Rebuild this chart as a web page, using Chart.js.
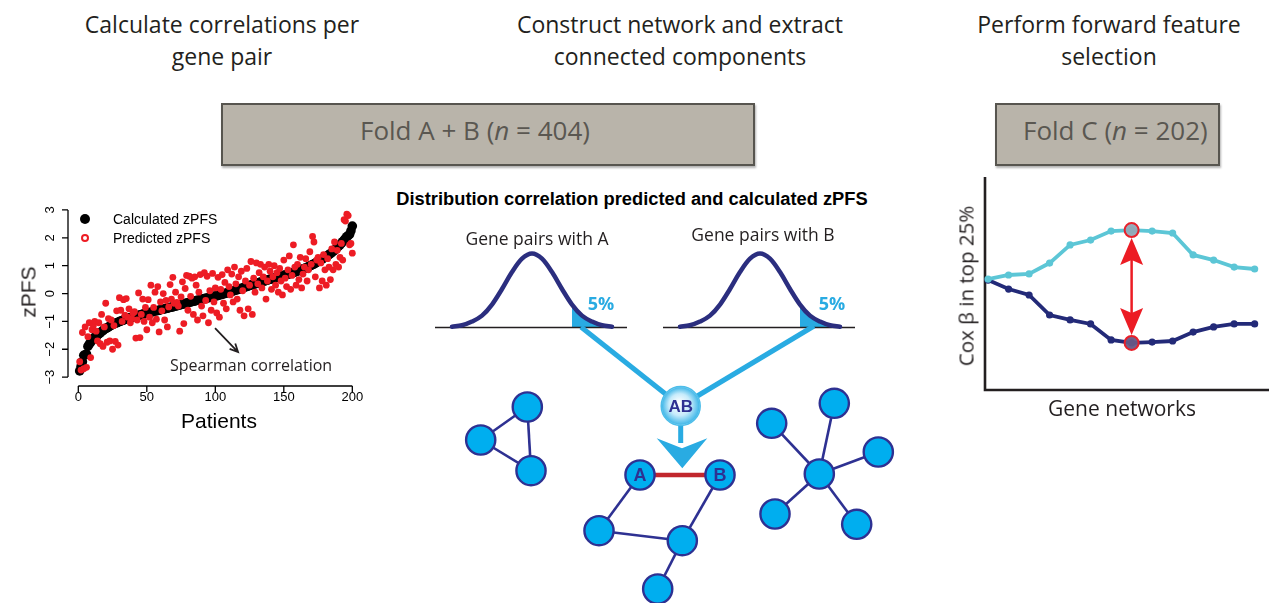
<!DOCTYPE html>
<html>
<head>
<meta charset="utf-8">
<title>Gene network selection workflow</title>
<script src="https://cdn.jsdelivr.net/npm/chart.js@4.4.1/dist/chart.umd.min.js"></script>
<style>
  html, body { margin: 0; padding: 0; background: #fff; }
  #fig { position: relative; width: 1269px; height: 603px; overflow: hidden; }
  #fig canvas { position: absolute; }
  .txt { position: absolute; white-space: nowrap; color: #231f20; }
  .fold { position: absolute; box-sizing: border-box; background: #b9b4aa;
          border: 2px solid #57554f; box-shadow: 1px 2px 2px rgba(0,0,0,0.3); }
  .dot { position: absolute; border-radius: 50%; box-sizing: border-box; }
</style>
</head>
<body>
<div id="fig">
  <div class="fold" style="left:221px;top:103px;width:534px;height:63px"></div>
  <div class="fold" style="left:995px;top:103px;width:225px;height:63px"></div>
  <div class="dot" style="left:80px;top:214px;width:10px;height:10px;background:#000"></div>
  <div class="dot" style="left:81px;top:234px;width:8px;height:8px;border:2px solid #ed1c24"></div>
  <canvas id="scatter" width="380" height="250" style="left:0;top:190px;width:380px;height:250px"></canvas>
  <canvas id="bellA" width="205" height="100" style="left:430px;top:240px;width:205px;height:100px"></canvas>
  <canvas id="bellB" width="205" height="100" style="left:658px;top:240px;width:205px;height:100px"></canvas>
  <canvas id="network" width="470" height="283" style="left:430px;top:320px;width:470px;height:283px"></canvas>
  <canvas id="cox" width="329" height="260" style="left:940px;top:170px;width:329px;height:260px"></canvas>
</div>
<script>
// ---------- Panel 1: calculated vs predicted zPFS per patient ----------
const zTicks = [-3, -2, -1, 0, 1, 2, 3];
const patientTicks = [0, 50, 100, 150, 200];

const calculatedZ = [
  -2.78,-2.62,-2.45,-2.22,-2.2,-2.18,-1.9,-1.82,-1.75,-1.68,
  -1.62,-1.57,-1.53,-1.49,-1.45,-1.41,-1.37,-1.33,-1.29,-1.26,
  -1.23,-1.2,-1.17,-1.14,-1.11,-1.09,-1.07,-1.05,-1.03,-1.01,
  -0.99,-0.97,-0.95,-0.93,-0.92,-0.9,-0.88,-0.87,-0.85,-0.84,
  -0.82,-0.81,-0.8,-0.78,-0.77,-0.76,-0.74,-0.73,-0.72,-0.7,
  -0.69,-0.68,-0.67,-0.66,-0.64,-0.63,-0.62,-0.61,-0.6,-0.58,
  -0.57,-0.56,-0.55,-0.54,-0.53,-0.51,-0.5,-0.49,-0.48,-0.46,
  -0.45,-0.44,-0.42,-0.41,-0.4,-0.38,-0.37,-0.36,-0.34,-0.33,
  -0.32,-0.3,-0.29,-0.28,-0.27,-0.25,-0.24,-0.23,-0.22,-0.2,
  -0.19,-0.18,-0.17,-0.16,-0.15,-0.14,-0.13,-0.12,-0.1,-0.09,
  -0.08,-0.07,-0.05,-0.04,-0.03,-0.01,0.0,0.02,0.03,0.05,
  0.06,0.08,0.09,0.11,0.12,0.14,0.15,0.17,0.19,0.2,
  0.22,0.24,0.25,0.27,0.29,0.3,0.32,0.33,0.35,0.36,
  0.38,0.39,0.41,0.42,0.44,0.45,0.47,0.48,0.5,0.51,
  0.52,0.54,0.55,0.57,0.58,0.59,0.61,0.62,0.63,0.65,
  0.66,0.68,0.69,0.71,0.72,0.74,0.75,0.77,0.79,0.81,
  0.82,0.84,0.86,0.88,0.9,0.92,0.94,0.96,0.99,1.01,
  1.04,1.06,1.09,1.12,1.15,1.18,1.21,1.24,1.27,1.3,
  1.33,1.36,1.4,1.43,1.47,1.51,1.55,1.6,1.65,1.7,
  1.75,1.8,1.86,1.92,1.98,2.04,2.08,2.12,2.25,2.42
];

const predictedZ = [
  -2.45,-2.75,-1.4,-2.7,-1.2,-2.65,-1.55,-1.05,-2.3,-1.3,
  -1.15,-1.0,-1.35,-1.7,-1.05,-1.8,-0.75,-1.9,-1.2,-0.35,
  -1.75,-0.9,-1.7,-0.95,-2.0,-1.15,-1.72,-0.62,-1.85,-0.15,
  -0.6,-1.0,-0.22,-0.78,-0.18,-0.85,-0.55,-1.05,-0.9,-0.7,
  -0.65,-1.6,-0.95,0.02,-1.58,-0.75,-0.2,-1.0,-0.5,-1.3,
  -0.22,-0.85,0.3,-1.05,-0.5,0.05,-0.92,0.25,-1.38,-0.3,
  -0.62,0.0,-0.95,-0.25,-1.2,-0.48,0.32,-0.2,0.58,-0.35,
  0.05,-0.32,-0.45,-1.35,-0.12,0.42,-1.08,0.18,0.65,-0.6,
  0.62,-0.1,0.55,-0.75,0.6,0.3,-0.95,0.05,0.68,-0.45,
  -0.8,0.75,-0.25,0.62,-1.05,0.1,-0.6,0.72,-0.3,0.2,
  -0.7,0.58,-0.85,0.15,0.68,-0.35,0.4,-0.55,0.85,0.25,
  -0.05,0.7,-0.3,0.95,0.35,-0.2,0.6,-0.6,0.8,0.1,
  -0.8,0.45,0.9,-0.55,0.3,1.15,-0.75,0.55,0.05,1.1,
  0.35,0.75,1.05,0.2,0.6,0.95,-0.2,0.45,1.05,0.8,
  0.15,0.6,1.0,0.3,0.75,0.05,0.9,0.45,-0.05,1.2,
  0.55,0.25,0.85,1.35,0.15,0.65,1.75,0.95,0.3,1.05,
  0.5,1.3,0.2,0.7,0.95,1.25,0.45,0.85,1.5,1.05,
  2.05,1.85,0.6,1.2,1.3,0.2,1.1,0.45,1.4,0.85,
  0.3,1.25,0.95,0.5,1.6,0.85,1.85,1.05,1.55,0.95,
  1.3,1.8,1.2,2.65,2.6,2.85,2.8,1.75,1.8,1.45
];

const patients = calculatedZ.map((_, i) => i + 1);
// arrow pointing at the Spearman correlation note, in data units
const spearmanArrow = [[99.8, -1.24], [116.6, -2.1]];

// ---------- Panel 2: correlation distributions and the gene network ----------
const scoreGrid = [-80, -70, -60, -50, -40, -30, -20, -10, 0, 10, 20, 30, 40, 50, 60, 70, 80];
const density = [0.01, 0.03, 0.08, 0.16, 0.31, 0.52, 0.75, 0.93, 1, 0.93, 0.75, 0.52, 0.31, 0.16, 0.08, 0.03, 0.01];
const tailStart = 40;           // top 5% of the correlation distribution
const baselineRange = [-97, 95];

const nodeX = [9.73, 5.07, 10.1, 21.0, 29.0, 16.9, 25.23, 22.77, 38.93, 34.17, 40.43, 44.83, 42.67, 34.5];
const nodeY = [8.7, 12.0, 15.07, 15.5, 15.5, 21.07, 22.07, 26.9, 15.4, 10.33, 8.33, 13.2, 20.43, 19.4];
const nodeLabels = ['', '', '', 'A', 'B', '', '', '', '', '', '', '', '', ''];
const edges = [[0, 1], [1, 2], [0, 2], [3, 5], [5, 6], [4, 6], [6, 7], [8, 9], [8, 10], [8, 11], [8, 12], [8, 13]];
const pairEdge = [3, 4];
const pairNode = [25.07, 8.6];
const tailAnchors = [[15.1, 0.7], [38.4, 0.6]];
const shaftEnd = [25.07, 12.3];
const arrowHead = [[22.67, 11.83], [25.2, 12.83], [27.73, 11.83], [25.23, 14.83]];

// ---------- Panel 3: forward feature selection ----------
const networkSteps = [0, 1, 2, 3, 4, 5, 6, 7, 8, 9, 10, 11, 12, 13];
const coxHigh = [52.1, 54.0, 54.5, 59.6, 68.1, 70.4, 74.6, 75.1, 74.6, 73.7, 63.4, 61.0, 57.7, 56.8];
const coxLow  = [51.6, 47.4, 44.6, 35.2, 32.9, 31.0, 23.5, 22.1, 22.5, 23.0, 27.2, 29.6, 31.0, 31.0];
const bestStep = 7;

// ---------- text ----------
const fig = document.getElementById('fig');
const FONTS = {
  os: { family: '"Open Sans", sans-serif', a: 1.069, d: 0.293 },
  ls: { family: '"Liberation Sans", Arial, sans-serif', a: 0.905, d: 0.212 }
};
function addText(html, x, base, size, font, o = {}) {
  const f = FONTS[font];
  const lh = Math.round(size * 1.4);
  const el = document.createElement('div');
  el.className = 'txt';
  el.innerHTML = html;
  const top = base - ((lh - (f.a + f.d) * size) / 2 + f.a * size);
  Object.assign(el.style, {
    fontFamily: f.family, fontSize: size + 'px', lineHeight: lh + 'px',
    top: top + 'px', left: x + 'px', fontWeight: o.weight || 400, color: o.color || '#231f20',
    transform: 'translateX(' + (o.align === 'center' ? '-50%' : o.align === 'right' ? '-100%' : '0') + ')'
  });
  fig.appendChild(el);
}
function addVertical(html, cx, cy, size, font) {
  const f = FONTS[font];
  const el = document.createElement('div');
  el.className = 'txt';
  el.innerHTML = html;
  Object.assign(el.style, {
    fontFamily: f.family, fontSize: size + 'px', lineHeight: Math.round(size * 1.4) + 'px',
    left: cx + 'px', top: cy + 'px', transform: 'translate(-50%,-50%) rotate(-90deg)'
  });
  fig.appendChild(el);
}

addText('Calculate correlations per', 222, 33, 23, 'os', { align: 'center' });
addText('gene pair', 222, 65, 23, 'os', { align: 'center' });
addText('Construct network and extract', 680, 33, 23, 'os', { align: 'center' });
addText('connected components', 680, 65, 23, 'os', { align: 'center' });
addText('Perform forward feature', 1109, 33, 23, 'os', { align: 'center' });
addText('selection', 1109, 65, 23, 'os', { align: 'center' });
addText('Fold A + B (<i>n</i> = 404)', 360, 140, 26, 'os', { color: '#5a5751' });
addText('Fold C (<i>n</i> = 202)', 1023, 140, 26, 'os', { color: '#5a5751' });

addText('Calculated zPFS', 113, 224, 14, 'ls', { color: '#000' });
addText('Predicted zPFS', 113, 243, 14, 'ls', { color: '#000' });
addText('Patients', 219, 428, 21, 'ls', { align: 'center', color: '#000' });
addVertical('zPFS', 28, 292, 21, 'ls');
addText('Spearman correlation', 170, 371, 16, 'os');

addText('Distribution correlation predicted and calculated zPFS', 632, 205.5, 18.3, 'ls', { align: 'center', weight: 700, color: '#000' });
addText('Gene pairs with A', 537, 245, 17.5, 'os', { align: 'center' });
addText('Gene pairs with B', 763, 241.5, 17.5, 'os', { align: 'center' });
addText('5%', 601, 310, 18, 'os', { align: 'center', weight: 700, color: '#29abe2' });
addText('5%', 832, 310.5, 18, 'os', { align: 'center', weight: 700, color: '#29abe2' });

addVertical('Cox β in top 25%', 966, 286, 20.5, 'os');
addText('Gene networks', 1122, 417, 21, 'os', { align: 'center' });

// ---------- charts ----------
const base = {
  animation: false, responsive: false, devicePixelRatio: 1, events: [],
  plugins: { legend: { display: false }, tooltip: { enabled: false } }
};
const area = (padding) => ({ autoPadding: false, padding });

// R-style axes: lines span only the first to last tick
const rAxes = {
  id: 'rAxes',
  afterDraw(chart) {
    const { ctx, chartArea: a, scales: { x, y } } = chart;
    ctx.save();
    ctx.strokeStyle = '#000'; ctx.fillStyle = '#000'; ctx.lineWidth = 1.3;
    ctx.font = '13px "Liberation Sans", Arial, sans-serif';
    const ax = a.left + 1;
    ctx.beginPath();
    ctx.moveTo(ax, y.getPixelForValue(zTicks[0]));
    ctx.lineTo(ax, y.getPixelForValue(zTicks[zTicks.length - 1]));
    zTicks.forEach(v => { const py = y.getPixelForValue(v); ctx.moveTo(ax - 6, py); ctx.lineTo(ax, py); });
    const ay = a.bottom;
    ctx.moveTo(x.getPixelForValue(patientTicks[0]), ay);
    ctx.lineTo(x.getPixelForValue(patientTicks[patientTicks.length - 1]), ay);
    patientTicks.forEach(v => { const px = x.getPixelForValue(v); ctx.moveTo(px, ay); ctx.lineTo(px, ay + 6); });
    ctx.stroke();
    ctx.textAlign = 'center'; ctx.textBaseline = 'middle';
    zTicks.forEach(v => {
      ctx.save();
      ctx.translate(ax - 18, y.getPixelForValue(v));
      ctx.rotate(-Math.PI / 2);
      ctx.fillText(v < 0 ? '\u2212' + Math.abs(v) : String(v), 0, 0);
      ctx.restore();
    });
    patientTicks.forEach(v => ctx.fillText(String(v), x.getPixelForValue(v), ay + 11));
    // annotation arrow
    const x1 = x.getPixelForValue(spearmanArrow[0][0]), y1 = y.getPixelForValue(spearmanArrow[0][1]);
    const x2 = x.getPixelForValue(spearmanArrow[1][0]), y2 = y.getPixelForValue(spearmanArrow[1][1]);
    const ang = Math.atan2(y2 - y1, x2 - x1);
    ctx.lineWidth = 1.8; ctx.strokeStyle = '#231f20';
    ctx.beginPath();
    ctx.moveTo(x1, y1); ctx.lineTo(x2, y2);
    ctx.moveTo(x2 - 9 * Math.cos(ang - 0.45), y2 - 9 * Math.sin(ang - 0.45));
    ctx.lineTo(x2, y2);
    ctx.lineTo(x2 - 9 * Math.cos(ang + 0.45), y2 - 9 * Math.sin(ang + 0.45));
    ctx.stroke();
    ctx.restore();
  }
};

new Chart(document.getElementById('scatter'), {
  type: 'scatter',
  data: {
    datasets: [
      { label: 'Predicted zPFS', data: patients.map((p, i) => ({ x: p, y: predictedZ[i] })),
        pointRadius: 3.4, pointBorderWidth: 0, pointBackgroundColor: '#ed1c24', order: 1, clip: false },
      { label: 'Calculated zPFS', data: patients.map((p, i) => ({ x: p, y: calculatedZ[i] })),
        pointRadius: 4.8, pointBorderWidth: 0, pointBackgroundColor: '#000', order: 2, clip: false }
    ]
  },
  options: Object.assign({}, base, {
    layout: area({ left: 67, right: 17, top: 13, bottom: 54 }),
    scales: {
      x: { type: 'linear', min: -8.25, max: 207.8, display: false },
      y: { type: 'linear', min: -3.32, max: 3.25, display: false }
    }
  }),
  plugins: [rAxes]
});

function bellChart(id) {
  const curve = scoreGrid.map((s, i) => ({ x: s, y: density[i] }));
  const tail = curve.filter(p => p.x >= tailStart);
  new Chart(document.getElementById(id), {
    type: 'line',
    data: {
      datasets: [
        { data: curve, borderColor: '#2b2e7f', borderWidth: 4.5, borderCapStyle: 'round',
          pointRadius: 0, cubicInterpolationMode: 'monotone', order: 1, clip: false },
        { data: baselineRange.map(v => ({ x: v, y: 0 })), borderColor: '#231f20', borderWidth: 1.6,
          pointRadius: 0, order: 2, clip: false },
        { data: tail, borderWidth: 0, pointRadius: 0, fill: 'origin', backgroundColor: '#29abe2',
          cubicInterpolationMode: 'monotone', order: 3, clip: false }
      ]
    },
    options: Object.assign({}, base, {
      layout: area({ left: 5, right: 8, top: 13.5, bottom: 12.5 }),
      scales: {
        x: { type: 'linear', min: baselineRange[0], max: baselineRange[1], display: false },
        y: { type: 'linear', min: 0, max: 1, display: false }
      }
    })
  });
}
bellChart('bellA');
bellChart('bellB');

const pt = (p) => ({ x: p[0], y: p[1] });
const nodePts = nodeX.map((x, i) => ({ x, y: nodeY[i] }));
const segment = (a, b, color, width, order) => ({
  data: [a, b], showLine: true, borderColor: color, borderWidth: width, pointRadius: 0, order, clip: false
});

// arrowhead, shaded pair node and node letters
const netDecor = {
  id: 'netDecor',
  afterDatasetsDraw(chart) {
    const { ctx, scales: { x, y } } = chart;
    ctx.save();
    ctx.fillStyle = '#29abe2';
    ctx.beginPath();
    arrowHead.forEach((p, i) => {
      const px = x.getPixelForValue(p[0]), py = y.getPixelForValue(p[1]);
      if (i === 0) ctx.moveTo(px, py); else ctx.lineTo(px, py);
    });
    ctx.closePath();
    ctx.fill();

    const cx = x.getPixelForValue(pairNode[0]), cy = y.getPixelForValue(pairNode[1]);
    const g = ctx.createRadialGradient(cx - 2, cy - 3, 1, cx, cy, 19);
    g.addColorStop(0, '#ffffff'); g.addColorStop(0.55, '#c6ebfb'); g.addColorStop(1, '#3db6e8');
    ctx.fillStyle = g;
    ctx.beginPath(); ctx.arc(cx, cy, 18.8, 0, Math.PI * 2); ctx.fill();

    ctx.fillStyle = '#2e3192';
    ctx.textAlign = 'center'; ctx.textBaseline = 'middle';
    ctx.font = 'bold 18px "Liberation Sans", Arial, sans-serif';
    nodeLabels.forEach((t, i) => {
      if (t) ctx.fillText(t, x.getPixelForValue(nodeX[i]), y.getPixelForValue(nodeY[i]) + 1);
    });
    ctx.font = 'bold 17px "Liberation Sans Narrow", "Liberation Sans", sans-serif';
    ctx.fillText('AB', cx, cy + 1);
    ctx.restore();
  }
};

new Chart(document.getElementById('network'), {
  type: 'scatter',
  data: {
    datasets: [
      { data: [pt(pairNode)], pointRadius: 19.5, pointBorderWidth: 1.5, pointBorderColor: '#4dbde9',
        pointBackgroundColor: '#9fdcf6', order: 0, clip: false },
      { data: nodePts, pointRadius: 14.6, pointBorderWidth: 2.4, pointBorderColor: '#2e3192',
        pointBackgroundColor: '#00aeef', order: 1, clip: false },
      segment(nodePts[pairEdge[0]], nodePts[pairEdge[1]], '#c1272d', 4.5, 2),
      ...edges.map(e => segment(nodePts[e[0]], nodePts[e[1]], '#2e3192', 2.6, 3)),
      segment(pt(pairNode), pt(shaftEnd), '#29abe2', 5, 4),
      ...tailAnchors.map(a => segment(pt(a), pt(pairNode), '#29abe2', 5, 5))
    ]
  },
  options: Object.assign({}, base, {
    layout: area(0),
    scales: {
      x: { type: 'linear', min: 0, max: 47, display: false },
      y: { type: 'linear', min: 0, max: 28.3, reverse: true, display: false }
    }
  }),
  plugins: [netDecor]
});

// L-shaped axes and the red double arrow at the best step
const coxDecor = {
  id: 'coxDecor',
  beforeDatasetsDraw(chart) {
    const { ctx, chartArea: a } = chart;
    ctx.save();
    ctx.strokeStyle = '#231f20'; ctx.lineWidth = 2.6;
    ctx.beginPath();
    ctx.moveTo(a.left, a.top); ctx.lineTo(a.left, a.bottom); ctx.lineTo(a.right, a.bottom);
    ctx.stroke();
    ctx.restore();
  },
  afterDatasetsDraw(chart) {
    const { ctx, scales: { x, y } } = chart;
    const px = x.getPixelForValue(bestStep);
    const top = y.getPixelForValue(coxHigh[bestStep]) + 8;
    const bot = y.getPixelForValue(coxLow[bestStep]) - 8;
    ctx.save();
    ctx.strokeStyle = '#ec1c24'; ctx.fillStyle = '#ec1c24'; ctx.lineWidth = 2.5;
    ctx.beginPath(); ctx.moveTo(px, top + 10); ctx.lineTo(px, bot - 10); ctx.stroke();
    const head = (tipY, dir) => {
      ctx.beginPath();
      ctx.moveTo(px, tipY);
      ctx.lineTo(px - 11.5, tipY + dir * 27);
      ctx.lineTo(px, tipY + dir * 22);
      ctx.lineTo(px + 11.5, tipY + dir * 27);
      ctx.closePath();
      ctx.fill();
    };
    head(top, 1);
    head(bot, -1);
    ctx.restore();
  }
};

new Chart(document.getElementById('cox'), {
  type: 'line',
  data: {
    datasets: [
      { data: [{ x: bestStep, y: coxHigh[bestStep] }, { x: bestStep, y: coxLow[bestStep] }], showLine: false,
        pointRadius: 7, pointBorderWidth: 2, pointBorderColor: '#e8202a',
        pointBackgroundColor: ['rgba(145,168,182,0.95)', 'rgba(104,88,134,0.95)'], order: 0, clip: false },
      { data: networkSteps.map((s, i) => ({ x: s, y: coxHigh[i] })), borderColor: '#5cc6d6', borderWidth: 3.8,
        pointRadius: 3.6, pointBorderWidth: 0, pointBackgroundColor: '#5cc6d6', order: 1, clip: false },
      { data: networkSteps.map((s, i) => ({ x: s, y: coxLow[i] })), borderColor: '#232a78', borderWidth: 3.8,
        pointRadius: 3.6, pointBorderWidth: 0, pointBackgroundColor: '#232a78', order: 2, clip: false }
    ]
  },
  options: Object.assign({}, base, {
    layout: area({ left: 45, right: 0, top: 7, bottom: 40 }),
    scales: {
      x: { type: 'linear', min: -0.15, max: 13.7, display: false },
      y: { type: 'linear', min: 0, max: 100, display: false }
    }
  }),
  plugins: [coxDecor]
});
</script>
</body>
</html>
